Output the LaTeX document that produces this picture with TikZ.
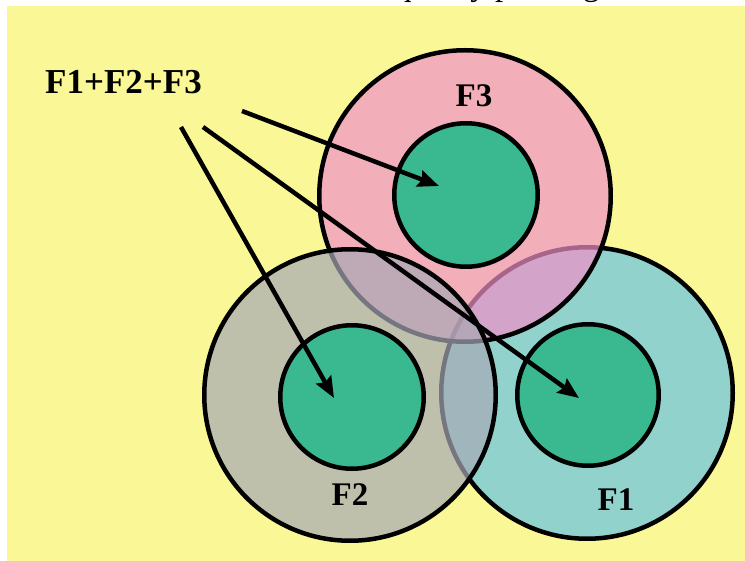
\documentclass[tikz,border=0pt]{standalone}
\usepackage{fontspec}
\setmainfont{Liberation Serif}
\usetikzlibrary{arrows.meta}
\definecolor{bgyellow}{RGB}{250,247,151}
\definecolor{innergreen}{RGB}{58,185,145}
\definecolor{fonecol}{RGB}{145,210,205}
\definecolor{fthreecol}{RGB}{240,144,200}
\definecolor{ftwocol}{RGB}{167,169,181}
\begin{document}
\begin{tikzpicture}[x=1pt,y=-1pt,
  ring/.style={circle, draw=black, line width=4.5pt, inner sep=0pt, minimum size=#1},
  bigring/.style={ring=291.5pt, fill opacity=0.7},
  innerring/.style={ring=#1, fill=innergreen},
  lbl/.style={font=\fontsize{33}{33}\selectfont\bfseries, anchor=base, inner sep=0pt},
  arr/.style={line width=4.5pt, -{Stealth[length=21pt,width=17pt,inset=3pt]}}
]
\useasboundingbox (0,0) rectangle (745,561);
\fill[white] (0,0) rectangle (745,561);
\fill[bgyellow] (7,6) rectangle (745,561);
\begin{scope}
  \clip (0,0) rectangle (745,561);
  \node[anchor=base west, inner sep=0pt, font=\fontsize{33}{33}\selectfont] (toptext) at (395,-4) {quality printing};
\end{scope}
% F1 (bottom layer)
\node[bigring, fill=fonecol, fill opacity=1] (fone) at (587,393) {};
\node[innerring=141.5pt] (fonein) at (588,395) {};
% F3
\node[bigring, fill=fthreecol] (fthree) at (465,196) {};
\node[innerring=143.5pt] (fthreein) at (466,195) {};
% F2 (top layer)
\node[bigring, fill=ftwocol] (ftwo) at (350,395) {};
\node[innerring=143.5pt] (ftwoin) at (352,397) {};
% labels
\node[lbl] (lthree) at (474,107) {F3};
\node[lbl] (ltwo) at (350,505) {F2};
\node[lbl] (lone) at (616,510) {F1};
\node[anchor=base west, inner sep=0pt, font=\fontsize{35}{35}\selectfont\bfseries] (sum) at (45,94) {F1+F2+F3};
% arrows
\coordinate (sa) at (242,111);
\coordinate (sb) at (181,127);
\coordinate (sc) at (203,127);
\coordinate (ta) at (439,186);
\coordinate (tb) at (334,398);
\coordinate (tc) at (579,398);
\draw[arr] (sa) -- (ta);
\draw[arr] (sb) -- (tb);
\draw[arr] (sc) -- (tc);
\end{tikzpicture}
\end{document}
